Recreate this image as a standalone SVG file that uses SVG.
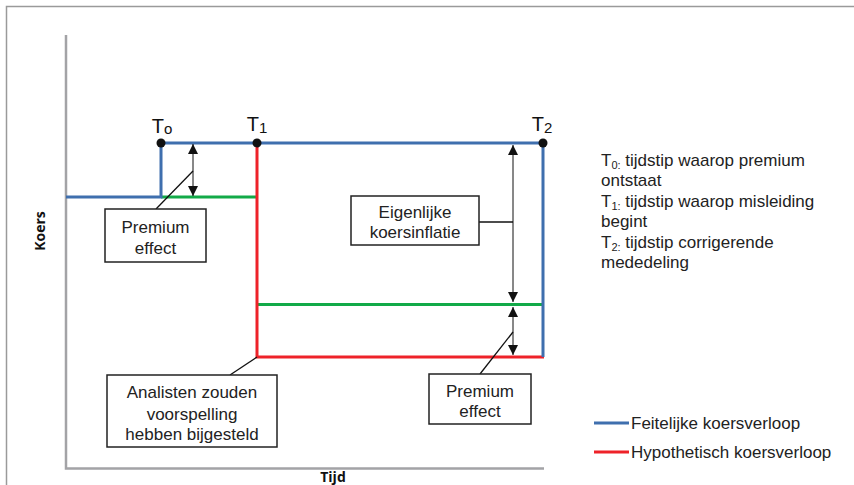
<svg xmlns="http://www.w3.org/2000/svg" width="854" height="485" viewBox="0 0 854 485">
  <defs>
    <marker id="ah" viewBox="0 0 10 10" refX="10" refY="5" markerWidth="10" markerHeight="10" markerUnits="userSpaceOnUse" orient="auto-start-reverse">
      <path d="M0,0 L10,5 L0,10 z" fill="#111"/>
    </marker>
    <style>
      .axis { stroke: #a3a3a6; stroke-width: 2.5; fill: none; }
      .blue { stroke: #3f6fae; stroke-width: 3; fill: none; }
      .red { stroke: #ee2229; stroke-width: 3; fill: none; }
      .green { stroke: #12aa48; stroke-width: 3; fill: none; }
      .dim { stroke: #111; stroke-width: 1; fill: none; }
      .lead { stroke: #111; stroke-width: 1.3; fill: none; }
      .box { fill: #fff; stroke: #222; stroke-width: 1.5; }
      .lbl { font-family: "Liberation Sans", Arial, sans-serif; font-size: 17px; fill: #222; text-anchor: middle; }
      .note { font-family: "Liberation Sans", Arial, sans-serif; font-size: 17px; fill: #222; }
      .sub { font-size: 11px; }
      .tk { font-family: "Liberation Sans", Arial, sans-serif; font-size: 20px; fill: #111; text-anchor: middle; }
      .ax { font-family: "Open Sans", "Liberation Sans", sans-serif; font-size: 14px; font-weight: bold; fill: #111; text-anchor: middle; }
      .dot { fill: #111; }
    </style>
  </defs>

  <rect width="854" height="485" fill="#fff"/>
  <!-- outer frame -->
  <rect x="6.5" y="6.5" width="870" height="500" fill="none" stroke="#9a9a9a" stroke-width="1.5"/>

  <!-- axes -->
  <g id="axes">
    <path class="axis" d="M66,35 V468.5 H544"/>
    <text class="ax" transform="translate(45,231) rotate(-90)">Koers</text>
    <text class="ax" x="333" y="482">Tijd</text>
  </g>

  <!-- price paths -->
  <g id="connectors">
    <path class="green" d="M161,197 H257"/>
    <path class="green" d="M257,304.5 H544"/>
    <path class="red" d="M257,143 V357 H544"/>
    <path class="blue" d="M66,197 H161 V143 H543 V357"/>

    <!-- dimension arrows -->
    <path class="dim" d="M193,144 V196" marker-start="url(#ah)" marker-end="url(#ah)"/>
    <path class="dim" d="M513,145 V302" marker-start="url(#ah)" marker-end="url(#ah)"/>
    <path class="dim" d="M513,307 V355" marker-start="url(#ah)" marker-end="url(#ah)"/>

    <!-- leaders -->
    <path class="lead" d="M193,171 L156,209"/>
    <path class="lead" d="M479,222 H513"/>
    <path class="lead" d="M513,332 L480,374"/>
    <path class="lead" d="M257,357 L230,375"/>
  </g>

  <!-- time markers -->
  <g id="t0">
    <circle class="dot" cx="161" cy="143" r="4.5"/>
    <text class="tk" x="162" y="133">T<tspan font-size="15" dy="1">o</tspan></text>
  </g>
  <g id="t1">
    <circle class="dot" cx="257" cy="143" r="4.5"/>
    <text class="tk" x="257" y="131">T<tspan font-size="15" dy="2">1</tspan></text>
  </g>
  <g id="t2">
    <circle class="dot" cx="543" cy="143" r="4.5"/>
    <text class="tk" x="542" y="131">T<tspan font-size="15" dy="2">2</tspan></text>
  </g>

  <!-- callout boxes -->
  <g id="premium-effect-1">
    <rect class="box" x="105" y="209" width="101" height="53"/>
    <text class="lbl" x="155.5" y="233">Premium</text>
    <text class="lbl" x="155.5" y="254">effect</text>
  </g>
  <g id="eigenlijke-koersinflatie">
    <rect class="box" x="351" y="196" width="128" height="49"/>
    <text class="lbl" x="415" y="218">Eigenlijke</text>
    <text class="lbl" x="415" y="238">koersinflatie</text>
  </g>
  <g id="premium-effect-2">
    <rect class="box" x="429" y="374" width="102" height="50"/>
    <text class="lbl" x="480" y="397">Premium</text>
    <text class="lbl" x="480" y="417">effect</text>
  </g>
  <g id="analisten">
    <rect class="box" x="107" y="375" width="170" height="72"/>
    <text class="lbl" x="192" y="398">Analisten zouden</text>
    <text class="lbl" x="192" y="420">voorspelling</text>
    <text class="lbl" x="192" y="440">hebben bijgesteld</text>
  </g>

  <!-- explanation of time markers -->
  <g id="notes">
    <text class="note" x="601" y="166">T<tspan class="sub" dy="3">0:</tspan><tspan dy="-3"> tijdstip waarop premium</tspan></text>
    <text class="note" x="601" y="186">ontstaat</text>
    <text class="note" x="601" y="207">T<tspan class="sub" dy="3">1:</tspan><tspan dy="-3"> tijdstip waarop misleiding</tspan></text>
    <text class="note" x="601" y="227">begint</text>
    <text class="note" x="601" y="248">T<tspan class="sub" dy="3">2:</tspan><tspan dy="-3"> tijdstip corrigerende</tspan></text>
    <text class="note" x="601" y="268">mededeling</text>
  </g>

  <!-- legend -->
  <g id="legend">
    <path class="blue" d="M594,423 H629"/>
    <text class="note" x="631" y="429">Feitelijke koersverloop</text>
    <path class="red" d="M594,452 H629"/>
    <text class="note" x="631" y="458">Hypothetisch koersverloop</text>
  </g>
</svg>
